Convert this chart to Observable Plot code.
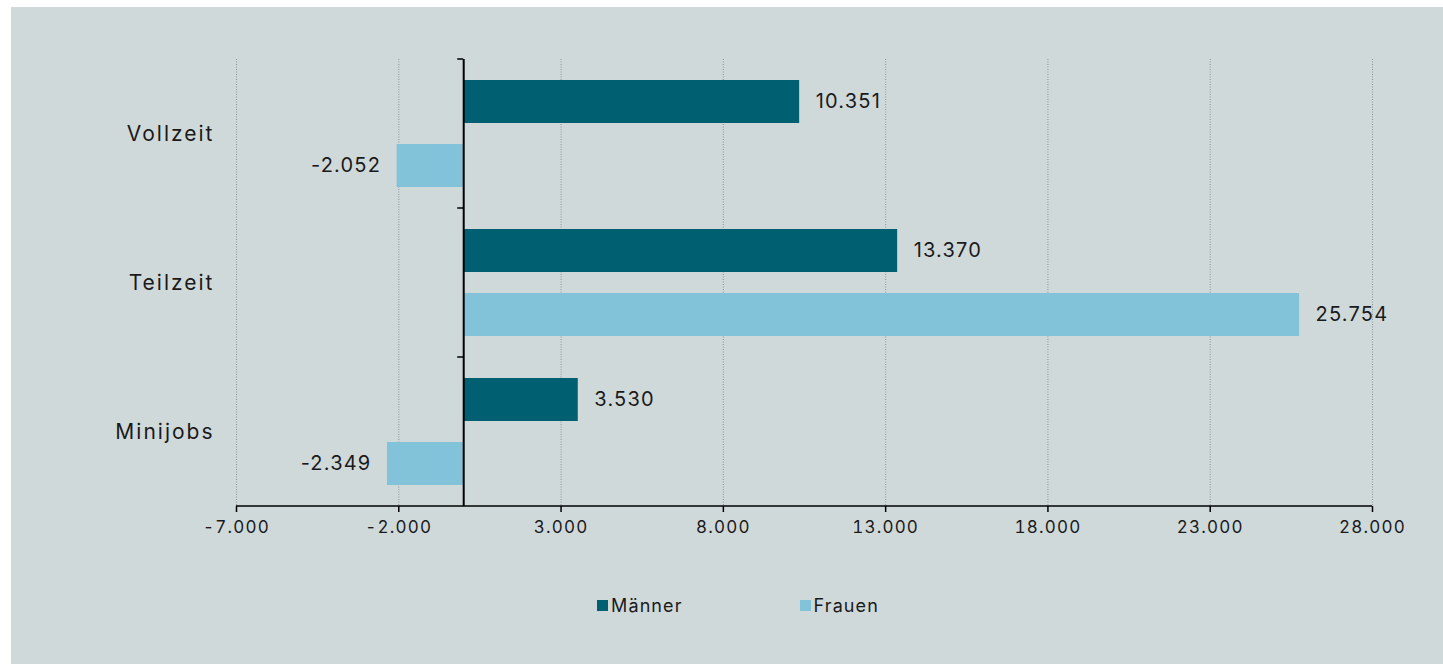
<!DOCTYPE html>
<html>
<head>
<meta charset="utf-8">
<script src="https://cdn.jsdelivr.net/npm/d3@7"></script>
<script src="https://cdn.jsdelivr.net/npm/@observablehq/plot@0.6"></script>
<style>
  html, body { margin: 0; padding: 0; background: #ffffff; }
  #card { position: absolute; left: 11px; top: 7px; width: 1432px; height: 657px; background: #d0d9da; font-family: Inter, "Open Sans", sans-serif; color: #1a1a1a; }
  #legend { display: flex; justify-content: center; gap: 117px; padding-left: 22px; margin-top: 39px; font-size: 18px; letter-spacing: 1.1px; }
  .item { display: flex; align-items: center; }
  .sw { width: 11px; height: 11px; margin-right: 3px; }
  #chart svg text { letter-spacing: 1.2px; }
</style>
</head>
<body>
<div id="card"><div id="chart"></div><div id="legend"></div></div>
<script>
const categories = ["Vollzeit", "Teilzeit", "Minijobs"];
const series = ["Männer", "Frauen"];
const maenner = [10351, 13370, 3530];
const frauen = [-2052, 25754, -2349];
const xTicks = [-7000, -2000, 3000, 8000, 13000, 18000, 23000, 28000];
const colors = ["#005f71", "#83c3da"];

const de = d3.formatLocale({decimal: ",", thousands: ".", grouping: [3], currency: ["", "€"], minus: "-"});
const fmt = de.format(",d");

const rows = [];
categories.forEach((c, i) => {
  rows.push({category: c, series: series[0], value: maenner[i]});
  rows.push({category: c, series: series[1], value: frauen[i]});
});
const men = rows.filter(d => d.series === series[0]);
const women = rows.filter(d => d.series === series[1]);

const font = "Inter, 'Open Sans', sans-serif";

const boundaryMarks = (index, scales, values, dimensions) => {
  const {x, y} = scales;
  const g = d3.create("svg:g").attr("stroke", "#000").attr("fill", "none");
  const x0 = x(0);
  for (const c of categories) {
    g.append("line").attr("x1", x0 - 6).attr("x2", x0).attr("y1", y(c)).attr("y2", y(c)).attr("stroke-width", 1.5);
  }
  const yb = dimensions.height - dimensions.marginBottom;
  g.append("line").attr("x1", x(xTicks[0])).attr("x2", x(xTicks[xTicks.length - 1])).attr("y1", yb).attr("y2", yb).attr("stroke-width", 1.5);
  return g.node();
};

const chart = Plot.plot({
  width: 1432,
  height: 549,
  marginLeft: 225,
  marginRight: 71,
  marginTop: 52,
  marginBottom: 50,
  style: {background: "transparent", fontFamily: font, color: "#1a1a1a"},
  x: {domain: [xTicks[0], xTicks[xTicks.length - 1]], ticks: xTicks},
  y: {domain: categories, padding: 0},
  marks: [
    Plot.gridX(xTicks, {stroke: "#8a9496", strokeOpacity: 1, strokeDasharray: "1,1.5", strokeWidth: 1}),
    Plot.barX(men, {x: "value", y: "category", fill: colors[0], insetTop: 21, insetBottom: 85}),
    Plot.barX(women, {x: "value", y: "category", fill: colors[1], insetTop: 85, insetBottom: 21}),
    Plot.ruleX([0], {stroke: "#000", strokeWidth: 2}),
    boundaryMarks,
    Plot.text(men.filter(d => d.value >= 0), {x: "value", y: "category", text: d => fmt(d.value), dy: -32, dx: 16, textAnchor: "start", fontSize: 20, fill: "#1a1a1a"}),
    Plot.text(women.filter(d => d.value >= 0), {x: "value", y: "category", text: d => fmt(d.value), dy: 32, dx: 16, textAnchor: "start", fontSize: 20, fill: "#1a1a1a"}),
    Plot.text(women.filter(d => d.value < 0), {x: "value", y: "category", text: d => fmt(d.value), dy: 32, dx: -16, textAnchor: "end", fontSize: 20, fill: "#1a1a1a"}),
    Plot.axisX(xTicks, {tickFormat: d => fmt(d), tickSize: 6, tickPadding: 8, fontSize: 17, stroke: "#000", strokeWidth: 1.5, label: null}),
    Plot.axisY({tickSize: 0, tickPadding: 22, fontSize: 21, label: null})
  ]
});
d3.select(chart).selectAll('g[aria-label="y-axis tick label"] text').style("letter-spacing", "2px");
document.getElementById("chart").appendChild(chart);

const legend = document.getElementById("legend");
series.forEach((s, i) => {
  const item = document.createElement("div");
  item.className = "item";
  const sw = document.createElement("span");
  sw.className = "sw";
  sw.style.background = colors[i];
  const t = document.createElement("span");
  t.textContent = s;
  item.appendChild(sw);
  item.appendChild(t);
  legend.appendChild(item);
});
</script>
</body>
</html>
